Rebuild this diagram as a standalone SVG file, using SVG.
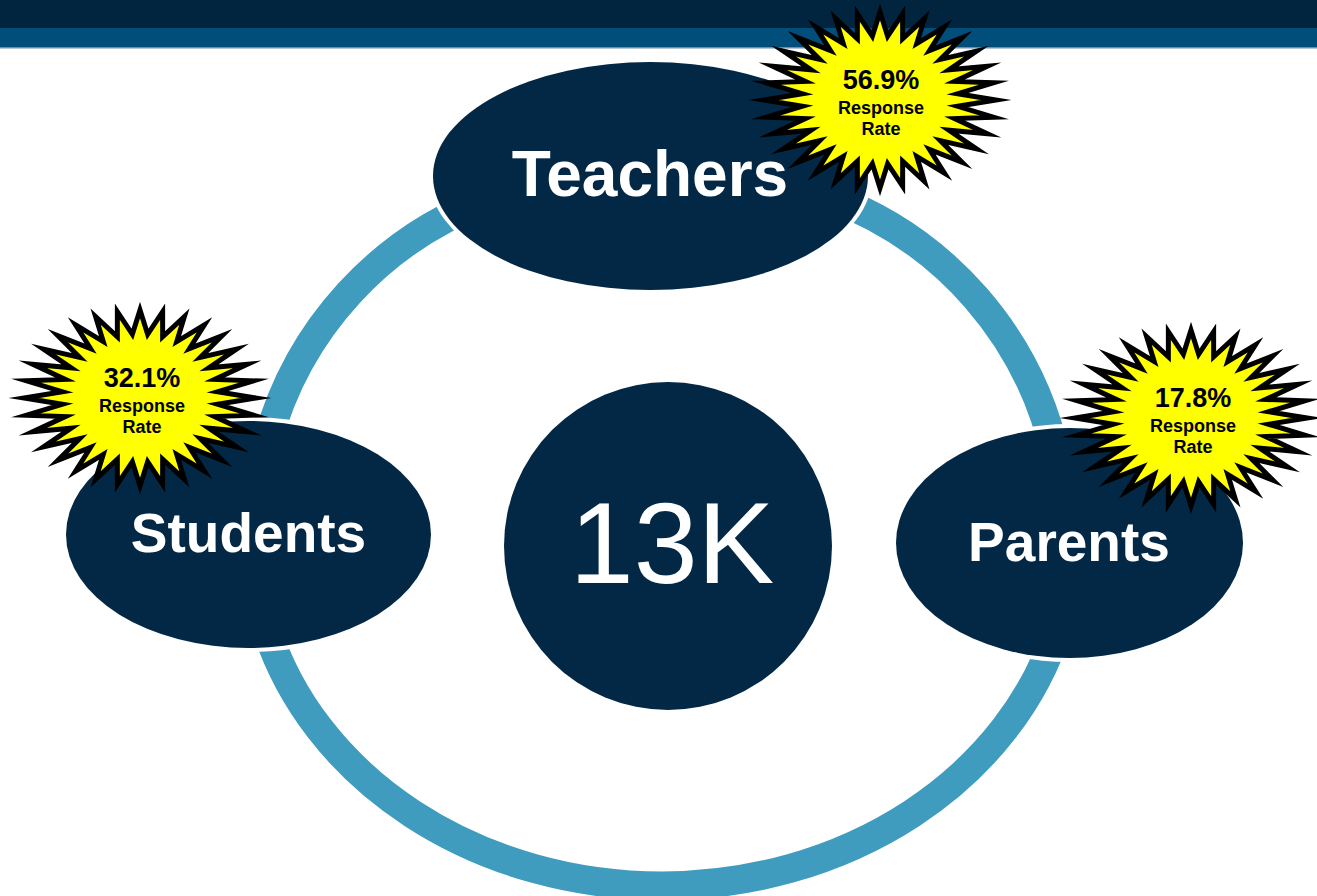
<svg xmlns="http://www.w3.org/2000/svg" xmlns:xlink="http://www.w3.org/1999/xlink" width="1317" height="896" viewBox="0 0 1317 896">
  <style>
    .node { fill: #032845; stroke: #ffffff; stroke-width: 8; paint-order: stroke; }
    .ring { fill: none; stroke: #3f9cbf; stroke-width: 29; }
    .label { font-family: "Liberation Sans", Arial, sans-serif; font-weight: bold; fill: #ffffff; text-anchor: middle; }
    .big { font-family: "Liberation Sans", Arial, sans-serif; font-weight: normal; fill: #ffffff; text-anchor: middle; font-size: 115px; }
    .star { fill: #ffff00; stroke: #000000; stroke-width: 5; stroke-linejoin: miter; stroke-miterlimit: 10; }
    .pct { font-family: "Liberation Sans", Arial, sans-serif; font-weight: bold; fill: #000000; text-anchor: middle; font-size: 27px; }
    .rr { font-family: "Liberation Sans", Arial, sans-serif; font-weight: bold; fill: #000000; text-anchor: middle; font-size: 18px; }
  </style>
  <defs>
    <polygon id="starShape" class="star" points="116,0 77.62,6.27 113.77,17.17 74.64,18.58 107.17,33.68 68.79,30.17 96.45,48.89 60.29,40.6 82.02,62.23 49.48,49.47 64.45,73.17 36.77,56.44 44.39,81.3 22.64,61.24 22.63,86.31 7.65,63.69 0,88 -7.65,63.69 -22.63,86.31 -22.64,61.24 -44.39,81.3 -36.77,56.44 -64.45,73.17 -49.48,49.47 -82.02,62.23 -60.29,40.6 -96.45,48.89 -68.79,30.17 -107.17,33.68 -74.64,18.58 -113.77,17.17 -77.62,6.27 -116,0 -77.62,-6.27 -113.77,-17.17 -74.64,-18.58 -107.17,-33.68 -68.79,-30.17 -96.45,-48.89 -60.29,-40.6 -82.02,-62.23 -49.48,-49.47 -64.45,-73.17 -36.77,-56.44 -44.39,-81.3 -22.64,-61.24 -22.63,-86.31 -7.65,-63.69 0,-88 7.65,-63.69 22.63,-86.31 22.64,-61.24 44.39,-81.3 36.77,-56.44 64.45,-73.17 49.48,-49.47 82.02,-62.23 60.29,-40.6 96.45,-48.89 68.79,-30.17 107.17,-33.68 74.64,-18.58 113.77,-17.17 77.62,-6.27"/>
  </defs>

  <rect width="1317" height="896" fill="#ffffff"/>

  <g id="header">
    <rect x="0" y="0" width="1317" height="28" fill="#01243f"/>
    <rect x="0" y="28" width="1317" height="19" fill="#024e7b"/>
    <rect x="0" y="47" width="1317" height="1.5" fill="#6f8ea6"/>
  </g>

  <g id="connectors">
    <path class="ring" d="M 267.2 442.3 A 358 358 0 0 1 490.6 198.6"/>
    <path class="ring" d="M 828.4 196.6 A 358 358 0 0 1 1056.2 458.6"/>
    <path class="ring" d="M 266 627.3 A 410 349 0 0 0 1058 627.3"/>
  </g>

  <g id="node-teachers">
    <ellipse class="node" cx="650.5" cy="176" rx="217.5" ry="114"/>
    <text class="label" x="650" y="196" font-size="64">Teachers</text>
  </g>

  <g id="node-students">
    <ellipse class="node" cx="248.5" cy="534.5" rx="182.5" ry="113.5"/>
    <text class="label" x="248.5" y="552" font-size="55">Students</text>
  </g>

  <g id="node-parents">
    <ellipse class="node" cx="1069.5" cy="543" rx="173.5" ry="115"/>
    <text class="label" x="1069" y="561" font-size="55">Parents</text>
  </g>

  <g id="node-total">
    <circle cx="668" cy="546" r="164" fill="#032845"/>
    <text class="big" x="672" y="583">13K</text>
  </g>

  <g id="badge-teachers">
    <use xlink:href="#starShape" href="#starShape" transform="translate(880,100)"/>
    <text class="pct" x="881" y="89">56.9%</text>
    <text class="rr" x="881" y="114">Response</text>
    <text class="rr" x="881" y="135">Rate</text>
  </g>

  <g id="badge-students">
    <use xlink:href="#starShape" href="#starShape" transform="translate(140,398)"/>
    <text class="pct" x="142" y="387">32.1%</text>
    <text class="rr" x="142" y="412">Response</text>
    <text class="rr" x="142" y="433">Rate</text>
  </g>

  <g id="badge-parents">
    <use xlink:href="#starShape" href="#starShape" transform="translate(1191,418)"/>
    <text class="pct" x="1193" y="407">17.8%</text>
    <text class="rr" x="1193" y="432">Response</text>
    <text class="rr" x="1193" y="453">Rate</text>
  </g>
</svg>
